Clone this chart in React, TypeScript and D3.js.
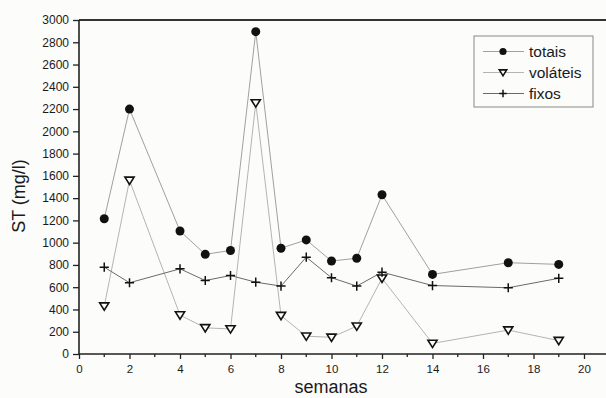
import { useEffect, useRef } from 'react';
import * as d3 from 'd3';

// semanas
const weeks = [1, 2, 4, 5, 6, 7, 8, 9, 10, 11, 12, 14, 17, 19];
// ST (mg/l)
const totais = [1215, 2200, 1105, 895, 930, 2895, 950, 1025, 835, 860, 1430, 715, 820, 805];
const volateis = [430, 1560, 350, 235, 225, 2255, 345, 160, 150, 250, 680, 95, 215, 120];
const fixos = [780, 640, 765, 660, 705, 645, 610, 870, 685, 610, 735, 615, 595, 680];

const xTicks = [0, 2, 4, 6, 8, 10, 12, 14, 16, 18, 20];
const xMinor = [1, 3, 5, 7, 9, 11, 13, 15, 17, 19];
const yTicks = d3.range(0, 3001, 200);

const legendLabels = ['totais', 'voláteis', 'fixos'];

const App = () => {
  const svgRef = useRef<SVGSVGElement>(null);

  useEffect(() => {
    const width = 606;
    const height = 398;
    const margin = { top: 20, right: 22, bottom: 44, left: 79 };

    d3.select(svgRef.current).selectAll('*').remove();
    const svg = d3.select(svgRef.current).attr('width', width).attr('height', height);

    svg.append('rect').attr('width', width).attr('height', height).attr('fill', '#fcfcfa');

    const x = d3.scaleLinear().domain([0, 20]).range([margin.left, width - margin.right]);
    const y = d3.scaleLinear().domain([0, 3000]).range([height - margin.bottom, margin.top]);

    const font = 'Liberation Sans, Arial, sans-serif';

    // frame
    svg.append('line')
      .attr('x1', margin.left).attr('x2', width)
      .attr('y1', y(3000)).attr('y2', y(3000))
      .attr('stroke', '#333').attr('stroke-width', 2);

    // x axis
    const xAxis = svg.append('g').attr('transform', `translate(0,${y(0)})`);
    xAxis.call(d3.axisBottom(x).tickValues(xTicks).tickSize(5).tickPadding(6).tickFormat(d3.format('d')));
    xAxis.select('.domain').remove();
    xAxis.append('line').attr('x1', margin.left).attr('x2', width).attr('stroke', '#222').attr('stroke-width', 1.6);
    xAxis.selectAll('.tick line').attr('stroke', '#222').attr('stroke-width', 1.3);
    xAxis.selectAll('.tick text').attr('fill', '#1a1a1a').style('font-family', font).style('font-size', '11.5px');
    xAxis.selectAll('.minor')
      .data(xMinor)
      .enter()
      .append('line')
      .attr('x1', (d) => x(d)).attr('x2', (d) => x(d))
      .attr('y1', 0).attr('y2', 3)
      .attr('stroke', '#222').attr('stroke-width', 1.3);

    // y axis
    const yAxis = svg.append('g').attr('transform', `translate(${margin.left},0)`);
    yAxis.call(d3.axisLeft(y).tickValues(yTicks).tickSize(6).tickPadding(4).tickFormat(d3.format('d')));
    yAxis.select('.domain').attr('stroke', '#222').attr('stroke-width', 1.6).attr('d', `M0,${y(3000)}V${y(0)}`);
    yAxis.selectAll('.tick line').attr('stroke', '#222').attr('stroke-width', 1.3);
    yAxis.selectAll('.tick text').attr('fill', '#1a1a1a').style('font-family', font).style('font-size', '12px');

    // titles
    svg.append('text')
      .attr('x', 331)
      .attr('y', 393)
      .attr('text-anchor', 'middle')
      .style('font-family', font)
      .style('font-size', '18px')
      .attr('fill', '#1a1a1a')
      .text('semanas');

    svg.append('text')
      .attr('transform', `translate(25,196) rotate(-90)`)
      .attr('text-anchor', 'middle')
      .style('font-family', font)
      .style('font-size', '18px')
      .attr('fill', '#1a1a1a')
      .text('ST (mg/l)');

    const series = [
      { values: totais, line: '#a0a0a0', marker: 'circle' },
      { values: volateis, line: '#b4b4b4', marker: 'tri' },
      { values: fixos, line: '#6a6a6a', marker: 'plus' },
    ];

    const drawMarker = (g: any, type: string, cx: number, cy: number, k = 1) => {
      if (type === 'circle') {
        g.append('circle').attr('cx', cx).attr('cy', cy).attr('r', 4.5 * k).attr('fill', '#111');
      } else if (type === 'tri') {
        const s = 4.6 * k;
        g.append('path')
          .attr('d', `M${cx - s},${cy - s * 0.7}L${cx + s},${cy - s * 0.7}L${cx},${cy + s * 0.9}Z`)
          .attr('fill', '#fcfcfa').attr('stroke', '#111').attr('stroke-width', 1.6);
      } else {
        const s = 4.6 * k;
        g.append('path')
          .attr('d', `M${cx - s},${cy}H${cx + s}M${cx},${cy - s}V${cy + s}`)
          .attr('stroke', '#111').attr('stroke-width', 1.5);
      }
    };

    series.forEach((s) => {
      const pts = weeks.map((w, i) => [x(w), y(s.values[i])] as [number, number]);
      svg.append('path')
        .attr('d', d3.line()(pts))
        .attr('fill', 'none')
        .attr('stroke', s.line)
        .attr('stroke-width', 1);
    });
    series.forEach((s) => {
      const g = svg.append('g');
      weeks.forEach((w, i) => drawMarker(g, s.marker, x(w), y(s.values[i])));
    });

    // legend
    const lg = svg.append('g').attr('transform', 'translate(474,36)');
    lg.append('rect').attr('width', 119).attr('height', 71)
      .attr('fill', '#fcfcfa').attr('stroke', '#888').attr('stroke-width', 1);
    legendLabels.forEach((label, i) => {
      const ly = 15.5 + i * 21;
      lg.append('line').attr('x1', 9).attr('x2', 50).attr('y1', ly).attr('y2', ly)
        .attr('stroke', series[i].line).attr('stroke-width', 1);
      drawMarker(lg, series[i].marker, 29, ly, 0.8);
      lg.append('text').attr('x', 55).attr('y', ly + 5.5)
        .style('font-family', font).style('font-size', '15.5px').attr('fill', '#1a1a1a')
        .text(label);
    });
  }, []);

  return (
    <svg ref={svgRef} style={{ position: 'absolute', left: 0, top: 0, display: 'block' }}></svg>
  );
};

export default App;
